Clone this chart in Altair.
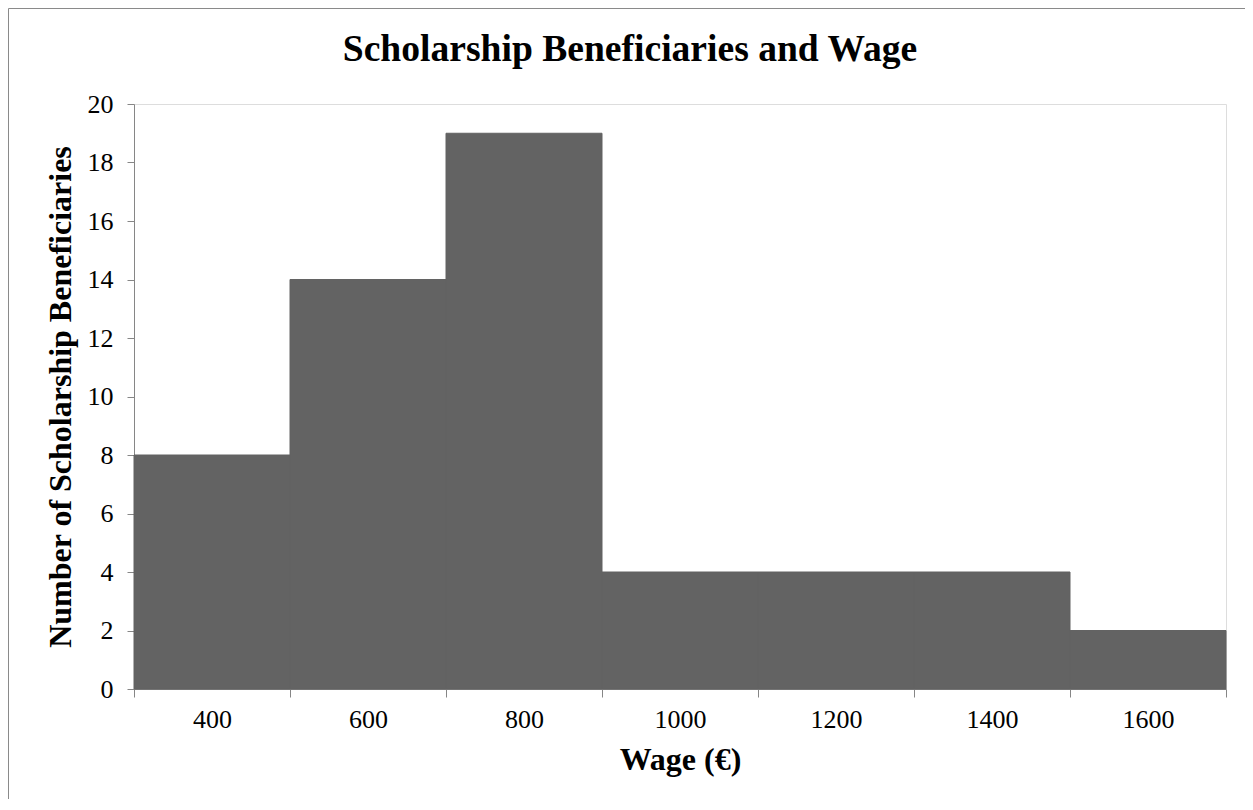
import altair as alt
import pandas as pd

bin_start = [300, 500, 700, 900, 1100, 1300, 1500]
bin_end = [500, 700, 900, 1100, 1300, 1500, 1700]
counts = [8, 14, 19, 4, 4, 4, 2]
x_tick_values = list(range(300, 1701, 100))
y_tick_values = list(range(0, 21, 2))

df = pd.DataFrame({"start": bin_start, "end": bin_end, "count": counts})

FONT = "Liberation Serif"
AXIS_GRAY = "#868686"
BAR = "#636363"

x_axis = alt.Axis(
    values=x_tick_values,
    format="d",
    labelExpr="datum.value % 200 == 0 ? datum.label : ''",
    tickOpacity={"condition": {"test": "datum.value % 200 == 0", "value": 0}, "value": 1},
    grid=False,
    domainColor=AXIS_GRAY,
    tickColor=AXIS_GRAY,
    tickSize=8,
    labelFont=FONT,
    labelFontSize=26,
    labelColor="black",
    labelPadding=9,
    labelFlush=False,
    labelOverlap=False,
    title="Wage (€)",
    titleFont=FONT,
    titleFontSize=32,
    titleFontWeight="bold",
    titleColor="black",
    titlePadding=12,
)

y_axis = alt.Axis(
    values=y_tick_values,
    grid=False,
    domainColor=AXIS_GRAY,
    tickColor=AXIS_GRAY,
    tickSize=7,
    labelFont=FONT,
    labelFontSize=26,
    labelColor="black",
    labelPadding=14,
    title="Number of Scholarship Beneficiaries",
    titleFont=FONT,
    titleFontSize=32,
    titleFontWeight="bold",
    titleColor="black",
    titlePadding=10,
)

bars = alt.Chart(df).mark_rect(color=BAR, stroke=BAR, strokeWidth=1).encode(
    x=alt.X("start:Q", scale=alt.Scale(domain=[300, 1700], nice=False, zero=False), axis=x_axis),
    x2="end:Q",
    y=alt.Y("count:Q", scale=alt.Scale(domain=[0, 20], nice=False), axis=y_axis),
    y2=alt.datum(0),
)

frame = alt.Chart(pd.DataFrame({"k": [0]})).mark_rect(
    filled=False, stroke="#8a8a8a", strokeWidth=1, clip=False
).encode(
    x=alt.value(-125.5), x2=alt.value(1400),
    y=alt.value(-95.5), y2=alt.value(900),
)

chart = alt.layer(bars, frame).properties(
    width=1092,
    height=585,
    title=alt.TitleParams(
        "Scholarship Beneficiaries and Wage",
        font=FONT,
        fontSize=37.6,
        fontWeight="bold",
        color="black",
        anchor="middle",
        frame="group",
        baseline="alphabetic",
        dx=-50,
        dy=91,
        offset=0,
    ),
    autosize=alt.AutoSizeParams(type="none"),
    padding={"left": 126, "top": 96, "right": 19, "bottom": 110},
).configure_view(stroke=None).configure(background="white")

chart.save("out.html", embed_options={"renderer": "svg", "actions": False})
